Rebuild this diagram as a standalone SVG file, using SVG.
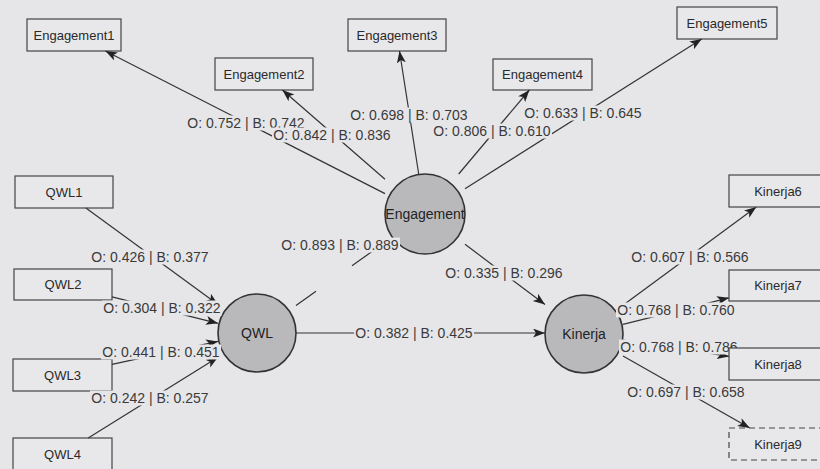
<svg xmlns="http://www.w3.org/2000/svg" width="820" height="469" viewBox="0 0 820 469">
<defs>
<marker id="ah" markerUnits="userSpaceOnUse" markerWidth="13" markerHeight="10" refX="12" refY="4.5" orient="auto">
<path d="M0,0 L12,4.5 L0,9 L3,4.5 z" fill="#222"/>
</marker>
<style>
.bg{fill:#e6e6e9}
.box{fill:#e8e8ea;stroke:#444;stroke-width:1.2}
.dash{stroke-dasharray:6,4}
.lv{fill:#b9b9bc;stroke:#333;stroke-width:1.6}
.nt{font-family:"Liberation Sans",Arial,sans-serif;font-size:13px;fill:#2a2a2a;text-anchor:middle}
.ct{font-family:"Liberation Sans",Arial,sans-serif;font-size:14px;fill:#222;text-anchor:middle}
.ln{stroke:#333;stroke-width:1.2;fill:none}
.lb{fill:#e6e6e9}
.lt{font-family:"Liberation Sans",Arial,sans-serif;font-size:14px;fill:#3a3a3a;text-anchor:middle}
</style>
</defs>
<rect class="bg" x="0" y="0" width="820" height="469"/>

<g id="Engagement1"><rect class="box" x="27" y="19" width="94" height="32"/><text class="nt" x="74" y="40">Engagement1</text></g>
<g id="Engagement2"><rect class="box" x="215" y="58" width="98" height="32"/><text class="nt" x="264" y="79">Engagement2</text></g>
<g id="Engagement3"><rect class="box" x="348" y="19" width="98" height="32"/><text class="nt" x="397" y="40">Engagement3</text></g>
<g id="Engagement4"><rect class="box" x="493" y="59" width="99" height="31"/><text class="nt" x="542.5" y="79">Engagement4</text></g>
<g id="Engagement5"><rect class="box" x="677" y="7" width="100" height="32"/><text class="nt" x="727" y="28">Engagement5</text></g>
<g id="QWL1"><rect class="box" x="15" y="176" width="98" height="32"/><text class="nt" x="64" y="197">QWL1</text></g>
<g id="QWL2"><rect class="box" x="14" y="269" width="98" height="31"/><text class="nt" x="63" y="289">QWL2</text></g>
<g id="QWL3"><rect class="box" x="13" y="359" width="99" height="32"/><text class="nt" x="62.5" y="380">QWL3</text></g>
<g id="QWL4"><rect class="box" x="13" y="438" width="99" height="40"/><text class="nt" x="62.5" y="459">QWL4</text></g>
<g id="Engagement"><circle class="lv" cx="425" cy="214" r="40"/><text class="ct" x="425" y="219">Engagement</text></g>
<g id="QWL"><circle class="lv" cx="257" cy="333" r="39"/><text class="ct" x="257" y="338">QWL</text></g>
<g id="Kinerja"><circle class="lv" cx="584" cy="334" r="39"/><text class="ct" x="584" y="339">Kinerja</text></g>

<g id="connectors">
<path class="ln" d="M385,193.6 L105.4,51" marker-end="url(#ah)"/>
<path class="ln" d="M385,179.2 L282.4,90" marker-end="url(#ah)"/>
<path class="ln" d="M418.7,174 L399.5,51" marker-end="url(#ah)"/>
<path class="ln" d="M458.7,174 L529.4,90" marker-end="url(#ah)"/>
<path class="ln" d="M465,188.7 L701.7,39" marker-end="url(#ah)"/>
<path class="ln" d="M85.9,208 L218,304.5" marker-end="url(#ah)"/>
<path class="ln" d="M112,296.8 L218,323.3" marker-end="url(#ah)"/>
<path class="ln" d="M112,364.3 L218,341.4" marker-end="url(#ah)"/>
<path class="ln" d="M88.2,438 L218,357.3" marker-end="url(#ah)"/>
<path class="ln" d="M296,305.4 L316,291.2"/>
<path class="ln" d="M352,265.7 L385,242.3" marker-end="url(#ah)"/>
<path class="ln" d="M296,333 L545,333" marker-end="url(#ah)"/>
<path class="ln" d="M465,244.2 L545,304.6" marker-end="url(#ah)"/>
<path class="ln" d="M623,305.3 L756.3,207" marker-end="url(#ah)"/>
<path class="ln" d="M623,324.3 L729,297.8" marker-end="url(#ah)"/>
<path class="ln" d="M623,340 L729,356.4" marker-end="url(#ah)"/>
<path class="ln" d="M623,356.1 L749.8,428" marker-end="url(#ah)"/>

<rect class="lb" x="186" y="115.5" width="120" height="15"/><text class="lt" x="246" y="128">O: 0.752 | B: 0.742</text>
<rect class="lb" x="272" y="127.5" width="120" height="15"/><text class="lt" x="332" y="140">O: 0.842 | B: 0.836</text>
<rect class="lb" x="349" y="107.5" width="120" height="15"/><text class="lt" x="409" y="120">O: 0.698 | B: 0.703</text>
<rect class="lb" x="432" y="123.5" width="120" height="15"/><text class="lt" x="492" y="136">O: 0.806 | B: 0.610</text>
<rect class="lb" x="523" y="105.5" width="120" height="15"/><text class="lt" x="583" y="118">O: 0.633 | B: 0.645</text>
<rect class="lb" x="90" y="249.5" width="120" height="15"/><text class="lt" x="150" y="262">O: 0.426 | B: 0.377</text>
<rect class="lb" x="102" y="300.5" width="120" height="15"/><text class="lt" x="162" y="313">O: 0.304 | B: 0.322</text>
<rect class="lb" x="101" y="344.5" width="120" height="15"/><text class="lt" x="161" y="357">O: 0.441 | B: 0.451</text>
<rect class="lb" x="90" y="390.5" width="120" height="15"/><text class="lt" x="150" y="403">O: 0.242 | B: 0.257</text>
<rect class="lb" x="280" y="237.5" width="120" height="15"/><text class="lt" x="340" y="250">O: 0.893 | B: 0.889</text>
<rect class="lb" x="354" y="325.5" width="120" height="15"/><text class="lt" x="414" y="338">O: 0.382 | B: 0.425</text>
<rect class="lb" x="444" y="265.5" width="120" height="15"/><text class="lt" x="504" y="278">O: 0.335 | B: 0.296</text>
<rect class="lb" x="630" y="249.5" width="120" height="15"/><text class="lt" x="690" y="262">O: 0.607 | B: 0.566</text>
<rect class="lb" x="616" y="302.5" width="120" height="15"/><text class="lt" x="676" y="315">O: 0.768 | B: 0.760</text>
<rect class="lb" x="619" y="339.5" width="120" height="15"/><text class="lt" x="679" y="352">O: 0.768 | B: 0.786</text>
<rect class="lb" x="626" y="384.5" width="120" height="15"/><text class="lt" x="686" y="397">O: 0.697 | B: 0.658</text>
</g>

<g id="Kinerja6"><rect class="box" x="729" y="175" width="98" height="32"/><text class="nt" x="778" y="196">Kinerja6</text></g>
<g id="Kinerja7"><rect class="box" x="729" y="270" width="98" height="31"/><text class="nt" x="778" y="290">Kinerja7</text></g>
<g id="Kinerja8"><rect class="box" x="729" y="348" width="98" height="32"/><text class="nt" x="778" y="369">Kinerja8</text></g>
<g id="Kinerja9"><rect class="box dash" x="729" y="428" width="98" height="32"/><text class="nt" x="778" y="449">Kinerja9</text></g>
</svg>
